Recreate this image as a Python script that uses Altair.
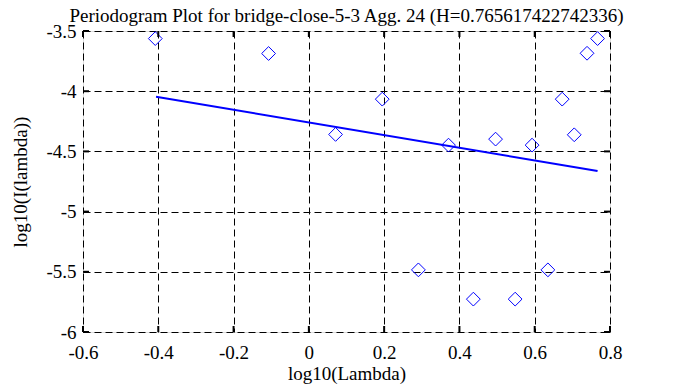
import altair as alt
import pandas as pd

# Data
pts_x = [-0.408, -0.107, 0.071, 0.195, 0.291, 0.371, 0.437, 0.496, 0.548, 0.593, 0.635, 0.673, 0.705, 0.739, 0.767]
pts_y = [-3.563, -3.687, -4.359, -4.066, -5.484, -4.448, -5.727, -4.398, -5.727, -4.448, -5.484, -4.066, -4.362, -3.685, -3.563]
fit_x = [-0.406, 0.767]
fit_y = [-4.046, -4.663]
x_ticks = [-0.6, -0.4, -0.2, 0, 0.2, 0.4, 0.6, 0.8]
y_ticks = [-6, -5.5, -5, -4.5, -4, -3.5]
TITLE = "Periodogram Plot for bridge-close-5-3 Agg. 24 (H=0.765617422742336)"

W, H = 527, 301
FONT = "Liberation Serif, Times New Roman, serif"
LFS = 19   # tick label size
TFS = 19   # title sizes

pts = pd.DataFrame({"x": pts_x, "y": pts_y})
fit = pd.DataFrame({"x": fit_x, "y": fit_y})
xt = pd.DataFrame({"v": x_ticks})
yt = pd.DataFrame({"v": y_ticks})
tdf = pd.DataFrame({"t": [TITLE]})

xs = alt.Scale(domain=[-0.6, 0.8], nice=False, zero=False)
ys = alt.Scale(domain=[-6, -3.5], nice=False, zero=False)

xaxis = alt.Axis(values=x_ticks, labelExpr="'' + datum.value", grid=True,
                 gridColor="black", gridDash=[7, 4], gridWidth=1, gridOpacity=1,
                 ticks=False, domain=False, labelFont=FONT, labelFontSize=LFS,
                 labelColor="black", labelPadding=11, labelFlush=False,
                 title="log10(Lambda)", titleFont=FONT, titleFontSize=TFS,
                 titleFontWeight="normal", titleColor="black",
                 titleX=W / 2, titleY=41, titleBaseline="middle", titleAlign="center")
yaxis = alt.Axis(values=y_ticks, labelExpr="'' + datum.value", grid=True,
                 gridColor="black", gridDash=[7, 4], gridWidth=1, gridOpacity=1,
                 ticks=False, domain=False, labelFont=FONT, labelFontSize=LFS,
                 labelColor="black", labelPadding=7, labelBaseline="middle",
                 labelFlush=False,
                 title="log10(I(lambda))", titleFont=FONT, titleFontSize=TFS,
                 titleFontWeight="normal", titleColor="black",
                 titleX=-63, titleY=H / 2, titleAngle=270,
                 titleBaseline="middle", titleAlign="center")

points = alt.Chart(pts).mark_point(shape="diamond", filled=False, color="#0000ff",
                                   size=190, strokeWidth=1, opacity=1).encode(
    x=alt.X("x:Q", scale=xs, axis=xaxis),
    y=alt.Y("y:Q", scale=ys, axis=yaxis),
)

line = alt.Chart(fit).mark_line(color="#0000ff", strokeWidth=2).encode(
    x=alt.X("x:Q", scale=xs),
    y=alt.Y("y:Q", scale=ys),
)

tick_bottom = alt.Chart(xt).mark_rule(color="black", strokeWidth=2).encode(
    x=alt.X("v:Q", scale=xs), y=alt.value(H), y2=alt.value(H - 6))
tick_top = alt.Chart(xt).mark_rule(color="black", strokeWidth=2).encode(
    x=alt.X("v:Q", scale=xs), y=alt.value(0), y2=alt.value(6))
tick_left = alt.Chart(yt).mark_rule(color="black", strokeWidth=2).encode(
    y=alt.Y("v:Q", scale=ys), x=alt.value(0), x2=alt.value(6))
tick_right = alt.Chart(yt).mark_rule(color="black", strokeWidth=2).encode(
    y=alt.Y("v:Q", scale=ys), x=alt.value(W), x2=alt.value(W - 6))

title = alt.Chart(tdf).mark_text(font=FONT, fontSize=TFS, color="black",
                                 align="center", baseline="alphabetic").encode(
    text="t:N", x=alt.value(W / 2), y=alt.value(-9))

chart = alt.layer(line, points, tick_bottom, tick_top, tick_left, tick_right, title).properties(
    width=W, height=H,
    autosize=alt.AutoSizeParams(type="none"),
    padding={"left": 75, "top": 23, "right": 60, "bottom": 60},
).configure_view(stroke="black", strokeWidth=2).configure(background="white")

chart.save("out.html", embed_options={"renderer": "svg", "actions": False})
